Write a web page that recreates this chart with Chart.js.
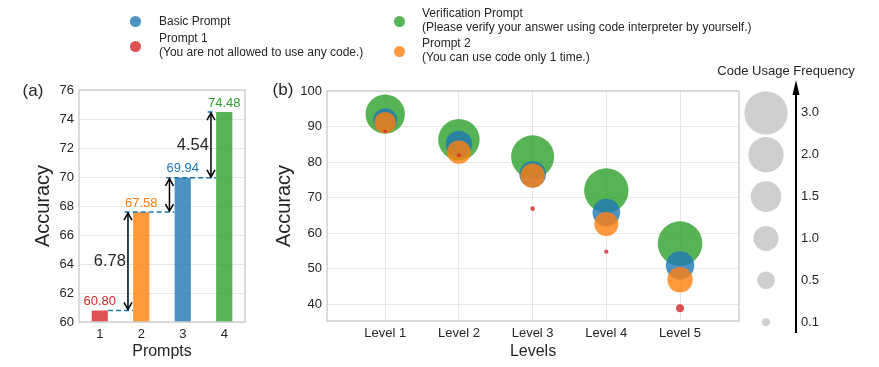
<!DOCTYPE html>
<html>
<head>
<meta charset="utf-8">
<script src="https://cdn.jsdelivr.net/npm/chart.js@4.4.1/dist/chart.umd.min.js"></script>
<style>
  body { margin: 0; background: #fff; }
  #wrap { position: relative; width: 879px; height: 367px; font-family: 'Liberation Sans', Arial, sans-serif; color: #262626; }
  #wrap canvas { position: absolute; left: 0; top: 0; }
  .mk { position: absolute; width: 11px; height: 11px; border-radius: 50%; margin: -5.5px 0 0 -5.5px; }
  .lt { position: absolute; font-size: 12px; line-height: 14px; white-space: nowrap; }
</style>
</head>
<body>
<div id="wrap">
  <canvas id="chartA" width="879" height="367"></canvas>
  <canvas id="chartB" width="879" height="367"></canvas>
  <canvas id="chartC" width="879" height="367"></canvas>

  <div class="mk" style="left:135px;top:21px;background:rgba(31,119,180,0.8)"></div>
  <div class="lt" style="left:159px;top:14px">Basic Prompt</div>
  <div class="mk" style="left:135px;top:46px;background:rgba(214,39,40,0.8)"></div>
  <div class="lt" style="left:159px;top:31px">Prompt 1<br>(You are not allowed to use any code.)</div>
  <div class="mk" style="left:399px;top:21px;background:rgba(44,160,44,0.8)"></div>
  <div class="lt" style="left:422px;top:6px">Verification Prompt<br>(Please verify your answer using code interpreter by yourself.)</div>
  <div class="mk" style="left:399px;top:51px;background:rgba(255,127,14,0.8)"></div>
  <div class="lt" style="left:422px;top:36px">Prompt 2<br>(You can use code only 1 time.)</div>
</div>

<script>
// ---- panel (a) data ----
const promptLabels = ['1', '2', '3', '4'];
const promptAccuracy = [60.80, 67.58, 69.94, 74.48];
const yTicksA = [60, 62, 64, 66, 68, 70, 72, 74, 76];
// dashed guide lines (in category units, 1-based) and gap arrows
const dashFrom = [1.2, 1.6, 2.6, 3.6];
const dashTo = [1.8, 2.8, 3.8, 3.8];
const gapPairs = [[0, 1], [1, 2], [2, 3]];
const gapShowLabel = [true, false, true];

// ---- panel (b) data ----
const levelLabels = ['Level 1', 'Level 2', 'Level 3', 'Level 4', 'Level 5'];
const yTicksB = [40, 50, 60, 70, 80, 90, 100];
const accVerify = [93.5, 86.3, 81.5, 72.0, 57.1];
const accBasic = [91.8, 85.1, 76.6, 65.8, 50.9];
const accPrompt2 = [91.1, 82.8, 76.2, 62.6, 46.9];
const accPrompt1 = [88.7, 81.9, 66.9, 54.8, 38.9];
const freqVerify = [2.48, 2.74, 2.96, 3.15, 3.18];
const freqBasic = [0.92, 1.12, 1.13, 1.22, 1.29];
const freqPrompt2 = [0.73, 0.88, 0.95, 0.92, 1.03];
const freqPrompt1 = [0.02, 0.026, 0.034, 0.03, 0.1];

// ---- size legend ----
const sizeLevels = [3.0, 2.0, 1.5, 1.0, 0.5, 0.1];
const sizeLabels = ['3.0', '2.0', '1.5', '1.0', '0.5', '0.1'];

const RED = 'rgba(214,39,40,0.8)', ORANGE = 'rgba(255,127,14,0.8)';
const BLUE = 'rgba(31,119,180,0.8)', GREEN = 'rgba(44,160,44,0.8)';
const barColors = [RED, ORANGE, BLUE, GREEN];
const labelColors = ['#d62728', '#ff7f0e', '#1f77b4', '#2ca02c'];
const TXT = '#262626';
const GRID = '#e6e6e6';
const FRAME = '#cfcfcf';

Chart.defaults.font.family = "'Liberation Sans', Arial, sans-serif";
Chart.defaults.color = TXT;

function radius(freq) {
  return 12.5 * Math.sqrt(freq);
}

function drawFrame(chart) {
  const a = chart.chartArea, ctx = chart.ctx;
  ctx.save();
  ctx.strokeStyle = FRAME;
  ctx.lineWidth = 1.5;
  ctx.strokeRect(a.left, a.top, a.right - a.left, a.bottom - a.top);
  ctx.restore();
}

function text(ctx, str, x, y, size, color, rot) {
  ctx.save();
  ctx.font = size + "px 'Liberation Sans', Arial, sans-serif";
  ctx.fillStyle = color;
  ctx.textAlign = 'center';
  ctx.textBaseline = 'middle';
  ctx.translate(x, y);
  if (rot) ctx.rotate(rot);
  ctx.fillText(str, 0, 0);
  ctx.restore();
}

function arrowHead(ctx, x, y, dir) {
  ctx.beginPath();
  ctx.moveTo(x - 4, y + dir * 7);
  ctx.lineTo(x, y);
  ctx.lineTo(x + 4, y + dir * 7);
  ctx.stroke();
}

// annotations for panel (a)
const panelAPlugin = {
  id: 'panelA',
  afterDatasetsDraw(chart) {
    const ctx = chart.ctx, x = chart.scales.x, y = chart.scales.y, a = chart.chartArea;
    drawFrame(chart);
    const step = x.getPixelForValue(1) - x.getPixelForValue(0);
    const px = v => x.getPixelForValue(0) + (v - 1) * step;

    // dashed guide lines
    ctx.save();
    ctx.strokeStyle = '#1f77b4';
    ctx.lineWidth = 1.5;
    ctx.setLineDash([5, 3]);
    promptAccuracy.forEach((v, i) => {
      const yy = y.getPixelForValue(v);
      ctx.beginPath();
      ctx.moveTo(px(dashFrom[i]), yy);
      ctx.lineTo(px(dashTo[i]), yy);
      ctx.stroke();
    });
    ctx.restore();

    // double arrows + gap labels
    ctx.save();
    ctx.strokeStyle = '#000';
    ctx.lineWidth = 1.5;
    gapPairs.forEach((p, k) => {
      const ax = px(p[0] + 1.68);
      const y0 = y.getPixelForValue(promptAccuracy[p[0]]);
      const y1 = y.getPixelForValue(promptAccuracy[p[1]]);
      ctx.beginPath();
      ctx.moveTo(ax, y0 - 1);
      ctx.lineTo(ax, y1 + 1);
      ctx.stroke();
      arrowHead(ctx, ax, y0 - 1, -1);
      arrowHead(ctx, ax, y1 + 1, 1);
      if (gapShowLabel[k]) {
        const gap = (promptAccuracy[p[1]] - promptAccuracy[p[0]]).toFixed(2);
        ctx.save();
        ctx.font = "16.5px 'Liberation Sans', Arial, sans-serif";
        ctx.fillStyle = TXT;
        ctx.textAlign = 'right';
        ctx.textBaseline = 'middle';
        ctx.fillText(gap, ax - 2, (y0 + y1) / 2);
        ctx.restore();
      }
    });
    ctx.restore();

    // value labels
    promptAccuracy.forEach((v, i) => {
      text(ctx, v.toFixed(2), x.getPixelForValue(i), y.getPixelForValue(v) - 9, 13, labelColors[i]);
    });

    text(ctx, 'Prompts', (a.left + a.right) / 2, 352, 16, TXT);
    text(ctx, 'Accuracy', 43, (a.top + a.bottom) / 2, 20, TXT, -Math.PI / 2);
    text(ctx, '(a)', 33, 91, 17, TXT);
  }
};

new Chart(document.getElementById('chartA'), {
  type: 'bar',
  data: {
    labels: promptLabels,
    datasets: [{
      data: promptAccuracy,
      backgroundColor: barColors,
      borderWidth: 0,
      barPercentage: 0.39,
      categoryPercentage: 1
    }]
  },
  options: {
    responsive: false,
    animation: false,
    events: [],
    layout: { padding: { left: 39, right: 634, top: 90, bottom: 5 } },
    plugins: { legend: { display: false }, tooltip: { enabled: false } },
    scales: {
      x: {
        type: 'category',
        offset: true,
        grid: { display: false, drawTicks: false },
        border: { display: false },
        ticks: { font: { size: 13 }, color: TXT, padding: 5 },
        afterFit: s => { s.height = 40; }
      },
      y: {
        min: 60,
        max: 76,
        grid: { color: GRID, lineWidth: 1, drawTicks: false },
        border: { display: false },
        ticks: { font: { size: 13 }, color: TXT, padding: 5 },
        afterBuildTicks: s => { s.ticks = yTicksA.map(v => ({ value: v })); },
        afterFit: s => { s.width = 40; }
      }
    }
  },
  plugins: [panelAPlugin]
});

// panel (b)
const panelBPlugin = {
  id: 'panelB',
  beforeDatasetsDraw(chart) {
    drawFrame(chart);
  },
  afterDraw(chart) {
    const ctx = chart.ctx, a = chart.chartArea;
    text(ctx, 'Levels', (a.left + a.right) / 2, 352, 16, TXT);
    text(ctx, 'Accuracy', 284, (a.top + a.bottom) / 2, 20, TXT, -Math.PI / 2);
    text(ctx, '(b)', 283, 90, 17, TXT);
  }
};

function bubbleSet(acc, freq, color) {
  return {
    data: acc.map((v, i) => ({ x: i + 1, y: v, r: radius(freq[i]) })),
    backgroundColor: color,
    borderWidth: 0,
    hoverRadius: 0
  };
}

new Chart(document.getElementById('chartB'), {
  type: 'bubble',
  data: {
    // first dataset is drawn on top
    datasets: [
      bubbleSet(accPrompt1, freqPrompt1, RED),
      bubbleSet(accPrompt2, freqPrompt2, ORANGE),
      bubbleSet(accBasic, freqBasic, BLUE),
      bubbleSet(accVerify, freqVerify, GREEN)
    ]
  },
  options: {
    responsive: false,
    animation: false,
    events: [],
    clip: false,
    layout: { padding: { left: 287, right: 140, top: 91, bottom: 6 } },
    plugins: { legend: { display: false }, tooltip: { enabled: false } },
    scales: {
      x: {
        type: 'linear',
        min: 0.21,
        max: 5.8,
        bounds: 'data',
        grid: { color: GRID, lineWidth: 1, drawTicks: false },
        border: { display: false },
        ticks: { font: { size: 13 }, color: TXT, padding: 5, callback: v => levelLabels[v - 1] },
        afterBuildTicks: s => { s.ticks = levelLabels.map((l, i) => ({ value: i + 1 })); },
        afterFit: s => { s.height = 40; }
      },
      y: {
        type: 'linear',
        min: 35.3,
        max: 100,
        bounds: 'data',
        grid: { color: GRID, lineWidth: 1, drawTicks: false },
        border: { display: false },
        ticks: { font: { size: 13 }, color: TXT, padding: 5 },
        afterBuildTicks: s => { s.ticks = yTicksB.map(v => ({ value: v })); },
        afterFit: s => { s.width = 40; }
      }
    }
  },
  plugins: [panelBPlugin]
});

// size legend
const sizeLegendPlugin = {
  id: 'sizeLegend',
  afterDraw(chart) {
    const ctx = chart.ctx, a = chart.chartArea;
    const ax = a.right + 4;
    ctx.save();
    ctx.strokeStyle = '#000';
    ctx.fillStyle = '#000';
    ctx.lineWidth = 2;
    ctx.beginPath();
    ctx.moveTo(ax, a.bottom - 10);
    ctx.lineTo(ax, 92);
    ctx.stroke();
    ctx.beginPath();
    ctx.moveTo(ax, 80);
    ctx.lineTo(ax - 3.5, 95);
    ctx.lineTo(ax + 3.5, 95);
    ctx.closePath();
    ctx.fill();
    ctx.restore();
    text(ctx, 'Code Usage Frequency', 786, 71, 13, TXT);
  }
};

new Chart(document.getElementById('chartC'), {
  type: 'bubble',
  data: {
    datasets: [{
      data: sizeLevels.map((v, i) => ({ x: 0.5, y: sizeLabels[i], r: radius(v) })),
      backgroundColor: '#cfcfcf',
      borderWidth: 0,
      hoverRadius: 0
    }]
  },
  options: {
    responsive: false,
    animation: false,
    events: [],
    clip: false,
    layout: { padding: { left: 740, right: 27, top: 92, bottom: 24 } },
    plugins: { legend: { display: false }, tooltip: { enabled: false } },
    scales: {
      x: { type: 'linear', min: 0, max: 1, display: false },
      y: {
        type: 'category',
        labels: sizeLabels,
        offset: true,
        position: 'right',
        grid: { display: false, drawTicks: false },
        border: { display: false },
        ticks: { font: { size: 13 }, color: TXT, padding: 9 },
        afterFit: s => { s.width = 60; }
      }
    }
  },
  plugins: [sizeLegendPlugin]
});
</script>
</body>
</html>
